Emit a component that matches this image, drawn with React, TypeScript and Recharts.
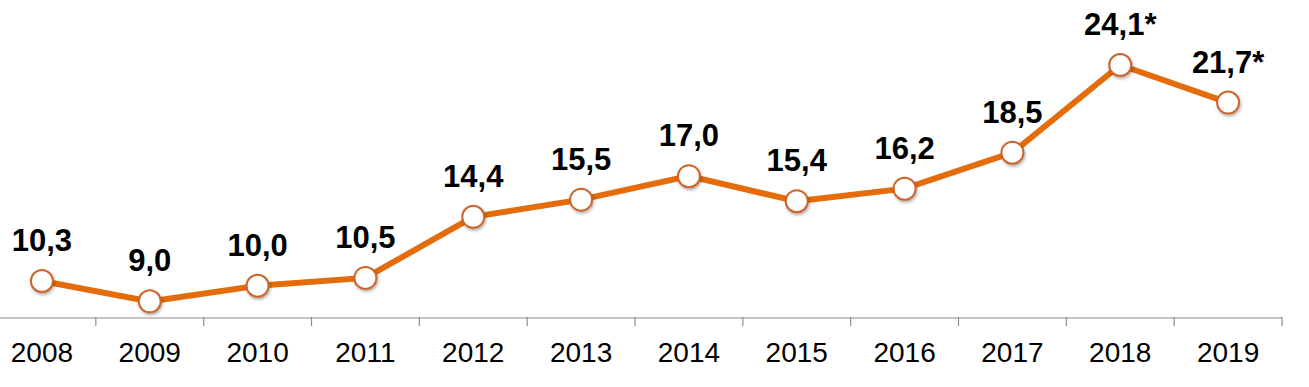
import { LineChart, Line, XAxis, YAxis, LabelList } from 'recharts';

const years = ['2008', '2009', '2010', '2011', '2012', '2013', '2014', '2015', '2016', '2017', '2018', '2019'];
const values = [10.3, 9.0, 10.0, 10.5, 14.4, 15.5, 17.0, 15.4, 16.2, 18.5, 24.1, 21.7];
const valueLabels = ['10,3', '9,0', '10,0', '10,5', '14,4', '15,5', '17,0', '15,4', '16,2', '18,5', '24,1*', '21,7*'];

const ORANGE = '#E46C0A';
const FONT = '"Liberation Sans", Arial, sans-serif';

const data = years.map((year, i) => ({
  pos: i + 0.5,
  year,
  value: values[i],
  label: valueLabels[i],
}));

const labelTicks = years.map((_, i) => i + 0.5);
const boundaryTicks = years.map((_, i) => i + 1);

// empty tick: only the tick line is wanted on the boundary axis
const NoLabel = () => <g />;

export default function App() {
  return (
    <div style={{ position: 'absolute', left: 0, top: 0, width: 1309, height: 387, overflow: 'hidden', background: '#fff' }}>
      <div style={{ marginLeft: -12 }}>
        <LineChart
          width={1321}
          height={387}
          data={data}
          margin={{ top: 4, right: 27, bottom: 0, left: 0 }}
        >
          <XAxis
            xAxisId="grid"
            type="number"
            dataKey="pos"
            domain={[0, 12]}
            ticks={boundaryTicks}
            interval={0}
            height={1}
            tick={NoLabel}
            tickSize={9}
            tickLine={{ stroke: '#8c8c8c', strokeWidth: 1.2 }}
            axisLine={false}
          />
          <XAxis
            xAxisId="main"
            type="number"
            dataKey="pos"
            domain={[0, 12]}
            ticks={labelTicks}
            interval={0}
            height={69}
            tickLine={false}
            tickSize={0}
            tickMargin={24}
            tickFormatter={(v: number) => years[Math.floor(v)]}
            tick={{ fill: '#000', fontSize: 28, fontFamily: FONT }}
            axisLine={{ stroke: '#8c8c8c', strokeWidth: 1.2 }}
          />
          <YAxis hide domain={[8, 28]} />
          <Line
            xAxisId="main"
            type="linear"
            dataKey="value"
            stroke={ORANGE}
            strokeWidth={6}
            isAnimationActive={false}
            dot={{
              r: 11,
              fill: '#fff',
              stroke: '#D0652A',
              strokeWidth: 2,
              style: { filter: 'drop-shadow(1px 2px 1.5px rgba(0,0,0,0.3))' },
            }}
            activeDot={false}
          >
            <LabelList
              dataKey="label"
              position="top"
              offset={30}
              style={{ fill: '#000', fontSize: 31, fontWeight: 'bold', fontFamily: FONT }}
            />
          </Line>
        </LineChart>
      </div>
    </div>
  );
}
